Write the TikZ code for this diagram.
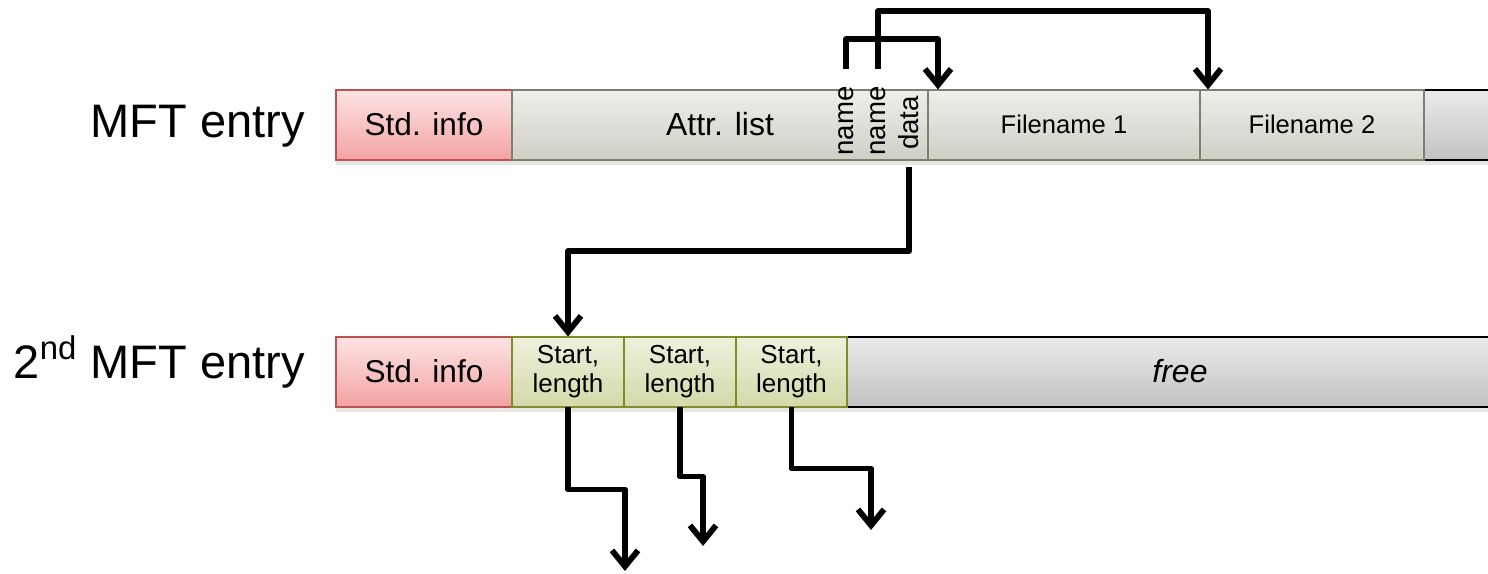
\documentclass[tikz,border=0pt]{standalone}
\usepackage{fontspec}
\setmainfont{Liberation Sans}
\usepackage{xcolor}
\usepackage{tikz}
\usetikzlibrary{arrows.meta,shadows}
\definecolor{info_line}{HTML}{C0504D}
\definecolor{info_top}{HTML}{FDE4E4}
\definecolor{info_bot}{HTML}{F3A3A3}
\definecolor{attr_line}{HTML}{7F7F70}
\definecolor{attr_top}{HTML}{EFEFEB}
\definecolor{attr_bot}{HTML}{CFCFC6}
\definecolor{run_line}{HTML}{7E8C2A}
\definecolor{run_top}{HTML}{EFF1DE}
\definecolor{run_bot}{HTML}{D3D9A8}
\definecolor{free_top}{HTML}{EBEBEB}
\definecolor{free_bot}{HTML}{C2C2C2}

\tikzset{
  box/.style={anchor=west, minimum height=35pt, inner sep=0pt, outer sep=0pt, line width=1pt,
    drop shadow={shadow xshift=0pt, shadow yshift=-2.5pt, opacity=0.2}},
  infobox/.style={box, draw=info_line, top color=info_top, bottom color=info_bot,
    minimum width=88pt, font=\fontsize{15.8}{18}\selectfont},
  attrbox/.style={box, draw=attr_line, top color=attr_top, bottom color=attr_bot},
  runbox/.style={box, draw=run_line, top color=run_top, bottom color=run_bot, align=center,
    font=\fontsize{13}{14.5}\selectfont},
  freebox/.style={box, draw=black, top color=free_top, bottom color=free_bot},
  rowlabel/.style={anchor=base east, inner sep=0pt, font=\fontsize{23.5}{28}\selectfont},
  vtext/.style={rotate=90, inner sep=0pt, font=\fontsize{13.8}{16}\selectfont},
  link/.style={line width=2.9pt, line join=round, -{Straight Barb[length=8pt,width=13pt]}}
}

\begin{document}
\begin{tikzpicture}[x=0.5pt, y=-0.5pt]
  \useasboundingbox (0,0) rectangle (1488,573);
  \clip (0,0) rectangle (1488,573);

  \node[rowlabel] (lbl1) at (305,137) {MFT entry};
  \node[rowlabel] (lbl2) at (305,378) {2\textsuperscript{nd} MFT entry};

  \node[freebox, minimum width=68pt] (tail) at (1424,124.5) {};
  \node[infobox] (std1) at (336,124.5) {Std. info};
  \node[attrbox, minimum width=208pt, font=\fontsize{16}{18}\selectfont] (attr) at (512,124.5) {Attr. list};
  \node[attrbox, minimum width=136pt, font=\fontsize{12.8}{15}\selectfont] (fn1) at (928,124.5) {Filename 1};
  \node[attrbox, minimum width=112pt, font=\fontsize{12.8}{15}\selectfont] (fn2) at (1200,124.5) {Filename 2};
  \node[vtext] (nm1) at (846,121) {name};
  \node[vtext] (nm2) at (878,121) {name};
  \node[vtext] (dat) at (909,123) {data};

  \node[freebox, minimum width=333pt, font=\fontsize{16}{18}\selectfont\itshape] (free) at (847,371.5) {free};
  \node[infobox] (std2) at (336,371.5) {Std. info};
  \node[runbox, minimum width=56pt] (sl1) at (512,371.5) {Start,\\length};
  \node[runbox, minimum width=56pt] (sl2) at (624,371.5) {Start,\\length};
  \node[runbox, minimum width=55.5pt] (sl3) at (736,371.5) {Start,\\length};

  \coordinate (ext1) at (625,571);
  \coordinate (ext2) at (703,546);
  \coordinate (ext3) at (871,530);

  \draw[link] ([yshift=8.5pt]nm1.east) -- ++(0,-30) -| ([xshift=5pt]fn1.north west);
  \draw[link] ([yshift=8.5pt]nm2.east) -- ++(0,-58) -| ([xshift=4pt]fn2.north west);
  \draw[link] ([yshift=-8.5pt]dat.west) -- ++(0,84) -| (sl1.north);
  \draw[link] (sl1.south) -- ++(0,83) -| (ext1);
  \draw[link] (sl2.south) -- ++(0,70) -| (ext2);
  \draw[link] (sl3.south) -- ++(0,62) -| (ext3);
\end{tikzpicture}
\end{document}
